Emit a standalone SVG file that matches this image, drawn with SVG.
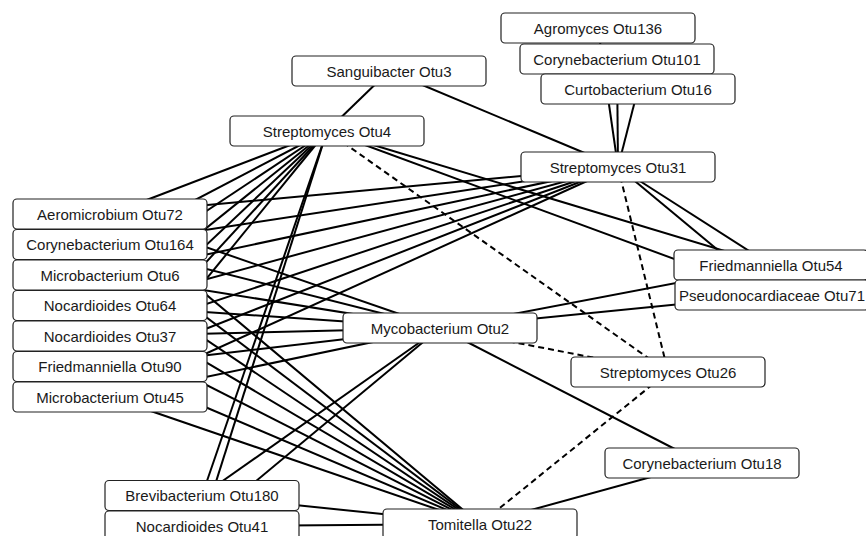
<svg xmlns="http://www.w3.org/2000/svg" width="866" height="536" viewBox="0 0 866 536">
<style>
.e{stroke:#000;stroke-width:2;fill:none}
.d{stroke:#000;stroke-width:2;fill:none;stroke-dasharray:6 4}
.n rect{fill:#fff;stroke:#222;stroke-width:1.2}
.n text{font-family:"Liberation Sans",Arial,sans-serif;font-size:15px;fill:#1a1a1a;text-anchor:middle}
</style>
<rect width="866" height="536" fill="#fff"/>
<g id="connectors">
<line class="e" x1="389" y1="71" x2="327" y2="131"/>
<line class="e" x1="389" y1="71" x2="618" y2="167"/>
<line class="e" x1="598" y1="28" x2="618" y2="167"/>
<line class="e" x1="617" y1="59" x2="618" y2="167"/>
<line class="e" x1="638" y1="89" x2="618" y2="167"/>
<line class="e" x1="618" y1="167" x2="771" y2="265"/>
<line class="e" x1="618" y1="167" x2="772" y2="295"/>
<line class="e" x1="327" y1="131" x2="771" y2="265"/>
<line class="e" x1="327" y1="131" x2="772" y2="295"/>
<line class="e" x1="440" y1="328" x2="771" y2="265"/>
<line class="e" x1="440" y1="328" x2="772" y2="295"/>
<line class="e" x1="440" y1="328" x2="702" y2="463"/>
<line class="e" x1="702" y1="463" x2="480" y2="524"/>
<line class="e" x1="202" y1="495.5" x2="480" y2="524"/>
<line class="e" x1="202" y1="526" x2="480" y2="524"/>
<line class="e" x1="327" y1="131" x2="202" y2="495.5"/>
<line class="e" x1="327" y1="131" x2="202" y2="526"/>
<line class="e" x1="440" y1="328" x2="202" y2="495.5"/>
<line class="e" x1="440" y1="328" x2="202" y2="526"/>
<line class="e" x1="110" y1="214" x2="327" y2="131"/>
<line class="e" x1="110" y1="244.5" x2="327" y2="131"/>
<line class="e" x1="110" y1="275" x2="327" y2="131"/>
<line class="e" x1="110" y1="305.5" x2="327" y2="131"/>
<line class="e" x1="110" y1="336" x2="327" y2="131"/>
<line class="e" x1="110" y1="366.5" x2="327" y2="131"/>
<line class="e" x1="110" y1="397" x2="327" y2="131"/>
<line class="e" x1="110" y1="214" x2="618" y2="167"/>
<line class="e" x1="110" y1="244.5" x2="618" y2="167"/>
<line class="e" x1="110" y1="275" x2="618" y2="167"/>
<line class="e" x1="110" y1="305.5" x2="618" y2="167"/>
<line class="e" x1="110" y1="336" x2="618" y2="167"/>
<line class="e" x1="110" y1="366.5" x2="618" y2="167"/>
<line class="e" x1="110" y1="397" x2="618" y2="167"/>
<line class="e" x1="110" y1="214" x2="440" y2="328"/>
<line class="e" x1="110" y1="244.5" x2="440" y2="328"/>
<line class="e" x1="110" y1="275" x2="440" y2="328"/>
<line class="e" x1="110" y1="305.5" x2="440" y2="328"/>
<line class="e" x1="110" y1="336" x2="440" y2="328"/>
<line class="e" x1="110" y1="366.5" x2="440" y2="328"/>
<line class="e" x1="110" y1="397" x2="440" y2="328"/>
<line class="e" x1="110" y1="214" x2="480" y2="524"/>
<line class="e" x1="110" y1="244.5" x2="480" y2="524"/>
<line class="e" x1="110" y1="275" x2="480" y2="524"/>
<line class="e" x1="110" y1="305.5" x2="480" y2="524"/>
<line class="e" x1="110" y1="336" x2="480" y2="524"/>
<line class="e" x1="110" y1="366.5" x2="480" y2="524"/>
<line class="e" x1="110" y1="397" x2="480" y2="524"/>
<line class="d" x1="327" y1="131" x2="668" y2="372"/>
<line class="d" x1="618" y1="167" x2="668" y2="372"/>
<line class="d" x1="440" y1="328" x2="668" y2="372"/>
<line class="d" x1="668" y1="372" x2="480" y2="524"/>
</g>
<g id="nodes" class="n">
<g id="n-otu136"><rect x="501" y="13" width="194" height="30" rx="4"/><text x="598" y="33.5">Agromyces Otu136</text></g>
<g id="n-otu101"><rect x="520" y="44" width="194" height="30" rx="4"/><text x="617" y="64.5">Corynebacterium Otu101</text></g>
<g id="n-otu16"><rect x="541" y="74" width="194" height="30" rx="4"/><text x="638" y="94.5">Curtobacterium Otu16</text></g>
<g id="n-otu3"><rect x="292" y="56" width="194" height="30" rx="4"/><text x="389" y="76.5">Sanguibacter Otu3</text></g>
<g id="n-otu4"><rect x="230" y="116" width="194" height="30" rx="4"/><text x="327" y="136.5">Streptomyces Otu4</text></g>
<g id="n-otu31"><rect x="521" y="152" width="194" height="30" rx="4"/><text x="618" y="172.5">Streptomyces Otu31</text></g>
<g id="n-otu72"><rect x="13" y="199" width="194" height="30" rx="4"/><text x="110" y="219.5">Aeromicrobium Otu72</text></g>
<g id="n-otu164"><rect x="13" y="229.5" width="194" height="30" rx="4"/><text x="110" y="250">Corynebacterium Otu164</text></g>
<g id="n-otu6"><rect x="13" y="260" width="194" height="30" rx="4"/><text x="110" y="280.5">Microbacterium Otu6</text></g>
<g id="n-otu64"><rect x="13" y="290.5" width="194" height="30" rx="4"/><text x="110" y="311">Nocardioides Otu64</text></g>
<g id="n-otu37"><rect x="13" y="321" width="194" height="30" rx="4"/><text x="110" y="341.5">Nocardioides Otu37</text></g>
<g id="n-otu90"><rect x="13" y="351.5" width="194" height="30" rx="4"/><text x="110" y="372">Friedmanniella Otu90</text></g>
<g id="n-otu45"><rect x="13" y="382" width="194" height="30" rx="4"/><text x="110" y="402.5">Microbacterium Otu45</text></g>
<g id="n-otu2"><rect x="343" y="313" width="194" height="30" rx="4"/><text x="440" y="333.5">Mycobacterium Otu2</text></g>
<g id="n-otu54"><rect x="674" y="250" width="194" height="30" rx="4"/><text x="771" y="270.5">Friedmanniella Otu54</text></g>
<g id="n-otu71"><rect x="675" y="280" width="194" height="30" rx="4"/><text x="772" y="300.5">Pseudonocardiaceae Otu71</text></g>
<g id="n-otu26"><rect x="571" y="357" width="194" height="30" rx="4"/><text x="668" y="377.5">Streptomyces Otu26</text></g>
<g id="n-otu18"><rect x="605" y="448" width="194" height="30" rx="4"/><text x="702" y="468.5">Corynebacterium Otu18</text></g>
<g id="n-otu180"><rect x="105" y="480.5" width="194" height="30" rx="4"/><text x="202" y="501">Brevibacterium Otu180</text></g>
<g id="n-otu41"><rect x="105" y="511" width="194" height="30" rx="4"/><text x="202" y="531.5">Nocardioides Otu41</text></g>
<g id="n-otu22"><rect x="383" y="509" width="194" height="30" rx="4"/><text x="480" y="529.5">Tomitella Otu22</text></g>
</g>
</svg>
